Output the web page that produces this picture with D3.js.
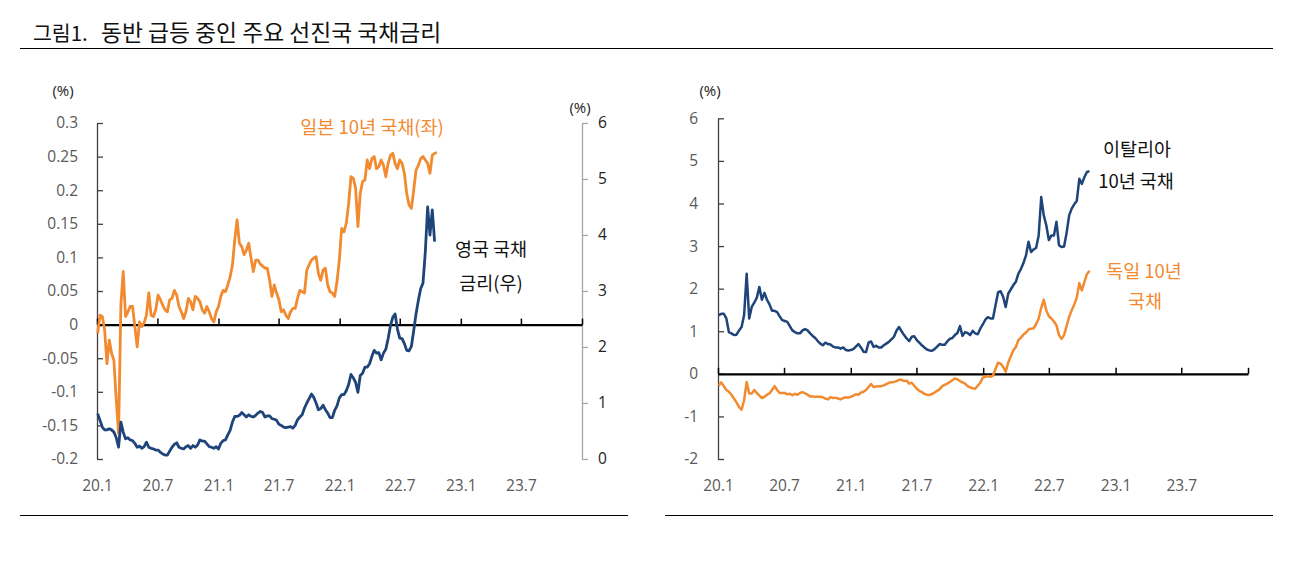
<!DOCTYPE html>
<html>
<head>
<meta charset="utf-8">
<script src="https://cdn.jsdelivr.net/npm/d3@7"></script>
<style>
  html, body { margin: 0; padding: 0; background: #fff; }
</style>
</head>
<body>
<div id="chart"></div>
<script>
// weekly observations starting on the first Friday of 2020
const startWeek = new Date(2020, 0, 3);

const japan10y = [
  -0.013, 0.014, 0.012, -0.008, -0.058, -0.023, -0.043, -0.053, -0.112, -0.162,
  0.03, 0.079, 0.012, 0.019, 0.027, 0.027, -0.003, -0.033, 0.004, -0.003,
  0.003, 0.014, 0.047, 0.014, 0.012, 0.022, 0.044, 0.037, 0.029, 0.022,
  0.019, 0.037, 0.039, 0.051, 0.044, 0.027, 0.019, 0.009, 0.019, 0.039,
  0.034, 0.022, 0.042, 0.039, 0.034, 0.022, 0.017, 0.027, 0.019, 0.009,
  0.004, 0.019, 0.027, 0.042, 0.051, 0.049, 0.059, 0.071, 0.089, 0.126,
  0.156, 0.121, 0.116, 0.104, 0.111, 0.121, 0.099, 0.079, 0.096, 0.096,
  0.09, 0.087, 0.084, 0.084, 0.066, 0.042, 0.059, 0.047, 0.037, 0.019,
  0.022, 0.014, 0.009, 0.019, 0.024, 0.024, 0.039, 0.051, 0.049, 0.047,
  0.081, 0.089, 0.096, 0.099, 0.101, 0.076, 0.066, 0.081, 0.084, 0.059,
  0.049, 0.047, 0.042, 0.064, 0.096, 0.143, 0.138, 0.151, 0.18, 0.22,
  0.218, 0.203, 0.146, 0.195, 0.213, 0.215, 0.245, 0.232, 0.247, 0.25,
  0.232, 0.235, 0.245, 0.237, 0.22, 0.24, 0.252, 0.255, 0.24, 0.232,
  0.245, 0.24, 0.225, 0.195, 0.178, 0.173, 0.2, 0.23, 0.237, 0.247,
  0.25, 0.245, 0.24, 0.225, 0.252, 0.255, 0.256
];

const ukGilt = [
  0.81, 0.69, 0.57, 0.52, 0.52, 0.54, 0.52, 0.48, 0.38, 0.21,
  0.66, 0.48, 0.36, 0.38, 0.34, 0.33, 0.28, 0.21, 0.23, 0.19,
  0.22, 0.30, 0.21, 0.19, 0.18, 0.16, 0.16, 0.12, 0.09, 0.07,
  0.07, 0.14, 0.21, 0.26, 0.29, 0.21, 0.19, 0.18, 0.22, 0.24,
  0.19, 0.24, 0.21, 0.25, 0.34, 0.32, 0.32, 0.27, 0.22, 0.21,
  0.19, 0.22, 0.18, 0.28, 0.33, 0.34, 0.43, 0.51, 0.66, 0.76,
  0.76, 0.78, 0.83, 0.79, 0.75, 0.79, 0.76, 0.75, 0.78, 0.82,
  0.85, 0.83, 0.75, 0.77, 0.77, 0.72, 0.71, 0.69, 0.62, 0.60,
  0.57, 0.56, 0.57, 0.58, 0.55, 0.60, 0.70, 0.75, 0.79, 0.91,
  1.00, 1.08, 1.16, 1.10, 1.00, 0.88, 0.90, 0.96, 0.88, 0.82,
  0.74, 0.74, 0.87, 0.95, 1.09, 1.15, 1.15, 1.22, 1.33, 1.51,
  1.45, 1.37, 1.19, 1.49, 1.53, 1.64, 1.64, 1.70, 1.83, 1.94,
  1.89, 1.90, 1.77, 1.89, 1.96, 2.15, 2.38, 2.53, 2.59, 2.32,
  2.16, 2.15, 2.06, 1.94, 1.93, 2.01, 2.29, 2.59, 2.83, 3.04,
  3.14, 3.70, 4.50, 4.00, 4.45, 3.88
];

const italy10y = [
  1.38, 1.41, 1.41, 1.30, 0.98, 0.95, 0.91, 0.92, 1.02, 1.10,
  1.38, 2.35, 1.30, 1.57, 1.67, 1.79, 2.04, 1.74, 1.90, 1.74,
  1.63, 1.48, 1.48, 1.45, 1.35, 1.26, 1.24, 1.22, 1.12, 1.02,
  0.98, 0.95, 0.95, 1.02, 1.05, 1.02, 0.95, 0.89, 0.84, 0.77,
  0.71, 0.67, 0.73, 0.70, 0.69, 0.64, 0.62, 0.62, 0.59, 0.62,
  0.56, 0.55, 0.56, 0.58, 0.64, 0.70, 0.62, 0.52, 0.51, 0.73,
  0.76, 0.63, 0.66, 0.62, 0.62, 0.67, 0.71, 0.75, 0.81, 0.87,
  1.01, 1.10, 1.00, 0.91, 0.83, 0.77, 0.87, 0.88, 0.79, 0.73,
  0.67, 0.62, 0.57, 0.55, 0.54, 0.58, 0.64, 0.70, 0.68, 0.68,
  0.76, 0.82, 0.84, 0.91, 0.96, 1.12, 0.89, 0.98, 0.96, 0.91,
  1.01, 0.95, 0.93, 1.06, 1.16, 1.27, 1.33, 1.30, 1.30, 1.61,
  1.91, 1.94, 1.81, 1.57, 1.88, 1.98, 2.08, 2.16, 2.35, 2.46,
  2.60, 2.78, 3.10, 2.86, 2.92, 2.96, 3.25, 4.15, 3.72, 3.49,
  3.14, 3.25, 3.25, 3.57, 3.02, 2.98, 2.99, 3.31, 3.72, 3.88,
  3.98, 4.06, 4.58, 4.46, 4.62, 4.74, 4.76
];

const germany10y = [
  -0.27, -0.20, -0.29, -0.38, -0.42, -0.49, -0.58, -0.67, -0.78, -0.84,
  -0.62, -0.19, -0.46, -0.46, -0.38, -0.45, -0.51, -0.57, -0.54, -0.49,
  -0.46, -0.38, -0.29, -0.38, -0.45, -0.45, -0.45, -0.48, -0.47, -0.50,
  -0.47, -0.49, -0.45, -0.43, -0.46, -0.49, -0.53, -0.53, -0.54, -0.54,
  -0.54, -0.55, -0.58, -0.60, -0.55, -0.57, -0.56, -0.58, -0.60, -0.57,
  -0.55, -0.56, -0.54, -0.51, -0.48, -0.49, -0.44, -0.42, -0.38, -0.31,
  -0.24, -0.31, -0.30, -0.29, -0.29, -0.27, -0.24, -0.21, -0.20, -0.19,
  -0.17, -0.14, -0.14, -0.17, -0.16, -0.23, -0.21, -0.28, -0.35, -0.40,
  -0.43, -0.47, -0.49, -0.50, -0.47, -0.44, -0.40, -0.36, -0.29, -0.26,
  -0.23, -0.19, -0.15, -0.11, -0.13, -0.17, -0.20, -0.23, -0.29, -0.32,
  -0.34, -0.35, -0.28, -0.21, -0.09, -0.07, -0.05, -0.07, -0.04, 0.12,
  0.26, 0.24, 0.16, 0.05, 0.26, 0.41, 0.55, 0.63, 0.79, 0.85,
  0.92, 0.97, 1.04, 1.06, 1.07, 1.17, 1.30, 1.55, 1.74, 1.49,
  1.35, 1.30, 1.23, 1.14, 0.91, 0.82, 0.91, 1.12, 1.34, 1.49,
  1.63, 1.79, 2.13, 1.96, 2.16, 2.34, 2.42
];

const xDomain = [new Date(2020, 0, 1), new Date(2024, 0, 1)];
const leftTicks = [-0.2, -0.15, -0.1, -0.05, 0, 0.05, 0.1, 0.15, 0.2, 0.25, 0.3];
const rightTicks = [0, 1, 2, 3, 4, 5, 6];
const euroTicks = [-2, -1, 0, 1, 2, 3, 4, 5, 6];

const titleNo = '그림1.';
const titleText = '동반 급등 중인 주요 선진국 국채금리';

const orange = '#f28a30',
  navy = '#1f4479',
  grey = '#595959';

const KR = '"Noto Sans CJK KR", "Noto Sans", sans-serif',
  NUM = '"Open Sans", "Noto Sans", sans-serif';

const W = 1302, H = 561;

const svg = d3.select('#chart').append('svg')
  .attr('width', W)
  .attr('height', H);

svg.append('rect').attr('width', W).attr('height', H).attr('fill', '#fff');

function label(x, y, txt, size, color, font, anchor) {
  return svg.append('text').attr('x', x).attr('y', y)
    .attr('text-anchor', anchor || 'middle')
    .style('font-family', font || KR)
    .style('font-size', size + 'px')
    .attr('fill', color).text(txt);
}

// title and rules
label(33, 41, titleNo, 20.5, '#111', KR, 'start');
label(101, 41, titleText, 22.8, '#111', KR, 'start');
svg.append('line').attr('x1', 20).attr('x2', 1273).attr('y1', 48.5).attr('y2', 48.5)
  .attr('stroke', '#000').attr('stroke-width', 1);
svg.append('line').attr('x1', 20).attr('x2', 628).attr('y1', 515.5).attr('y2', 515.5)
  .attr('stroke', '#000').attr('stroke-width', 1);
svg.append('line').attr('x1', 665).attr('x2', 1273).attr('y1', 515.5).attr('y2', 515.5)
  .attr('stroke', '#000').attr('stroke-width', 1);

const weekDate = i => d3.timeWeek.offset(startWeek, i);
const halfYears = d3.timeMonth.every(6).range(xDomain[0], d3.timeDay.offset(xDomain[1], 1));
const fmtTick = d => d3.timeFormat('%y')(d) + '.' + (d.getMonth() + 1);
const plain = d => String(+d.toFixed(2));

function styleAxis(g, lineColor, textColor) {
  g.select('.domain').attr('stroke', lineColor).attr('stroke-width', 1.3);
  g.selectAll('.tick line').attr('stroke', lineColor).attr('stroke-width', 1.3);
  g.selectAll('.tick text').attr('fill', textColor)
    .style('font-family', NUM).style('font-size', '15.5px');
}

function drawTimeAxis(x, zeroY, labelY) {
  const top = svg.append('g')
    .attr('transform', 'translate(0,' + zeroY + ')')
    .call(d3.axisTop(x).tickValues(halfYears).tickFormat('').tickSizeOuter(0).tickSizeInner(6));
  top.select('.domain').attr('stroke', '#000').attr('stroke-width', 2.2);
  top.selectAll('.tick line').attr('stroke', '#000').attr('stroke-width', 1.5);

  const lab = svg.append('g')
    .attr('transform', 'translate(0,' + labelY + ')')
    .call(d3.axisBottom(x).tickValues(halfYears.slice(0, -1)).tickFormat(fmtTick)
      .tickSize(0).tickPadding(0));
  lab.select('.domain').remove();
  styleAxis(lab, 'none', grey);
}

// ---------- left panel: Japan (left axis) / UK (right axis)
const x1 = d3.scaleTime().domain(xDomain).range([97, 582]);
const yJp = d3.scaleLinear().domain([-0.2, 0.3]).range([459, 123]);
const yUk = d3.scaleLinear().domain([0, 6]).range([459, 123]);

const axJp = svg.append('g').attr('transform', 'translate(97,0)')
  .call(d3.axisLeft(yJp).tickValues(leftTicks).tickFormat(plain)
    .tickSizeInner(-6).tickSizeOuter(0).tickPadding(19));
styleAxis(axJp, '#404040', grey);

const axUk = svg.append('g').attr('transform', 'translate(582,0)')
  .call(d3.axisRight(yUk).tickValues(rightTicks).tickFormat(plain)
    .tickSizeInner(6).tickSizeOuter(0).tickPadding(10));
styleAxis(axUk, '#a6a6a6', '#222');

drawTimeAxis(x1, yJp(0), 480);

const jpLine = d3.line().x((d, i) => x1(weekDate(i))).y(d => yJp(d));
const ukLine = d3.line().x((d, i) => x1(weekDate(i))).y(d => yUk(d));

svg.append('path').datum(japan10y).attr('d', jpLine)
  .attr('fill', 'none').attr('stroke', orange).attr('stroke-width', 2.8)
  .attr('stroke-linejoin', 'round');
svg.append('path').datum(ukGilt).attr('d', ukLine)
  .attr('fill', 'none').attr('stroke', navy).attr('stroke-width', 2.8)
  .attr('stroke-linejoin', 'round');

label(63, 96, '(%)', 15, '#222', NUM);
label(580, 113, '(%)', 15, '#222', NUM);

label(372, 134, '일본 10년 국채(좌)', 18.5, orange);
label(491, 256, '영국 국채', 18.5, '#111');
label(491, 290, '금리(우)', 18.5, '#111');

// ---------- right panel: Italy / Germany
const x2 = d3.scaleTime().domain(xDomain).range([718, 1248]);
const yEu = d3.scaleLinear().domain([-2, 6]).range([459, 118.3]);

const axEu = svg.append('g').attr('transform', 'translate(718,0)')
  .call(d3.axisLeft(yEu).tickValues(euroTicks).tickFormat(plain)
    .tickSizeInner(-6).tickSizeOuter(0).tickPadding(20));
styleAxis(axEu, '#404040', grey);

drawTimeAxis(x2, yEu(0), 480);

const euLine = d3.line().x((d, i) => x2(weekDate(i))).y(d => yEu(d));

svg.append('path').datum(germany10y).attr('d', euLine)
  .attr('fill', 'none').attr('stroke', orange).attr('stroke-width', 2.5)
  .attr('stroke-linejoin', 'round');
svg.append('path').datum(italy10y).attr('d', euLine)
  .attr('fill', 'none').attr('stroke', navy).attr('stroke-width', 2.5)
  .attr('stroke-linejoin', 'round');

label(710, 96, '(%)', 15, '#222', NUM);

label(1137, 156, '이탈리아', 18.5, '#111');
label(1136, 188, '10년 국채', 18.5, '#111');
label(1144, 278, '독일 10년', 18.5, orange);
label(1145, 308, '국채', 18.5, orange);
</script>
</body>
</html>
